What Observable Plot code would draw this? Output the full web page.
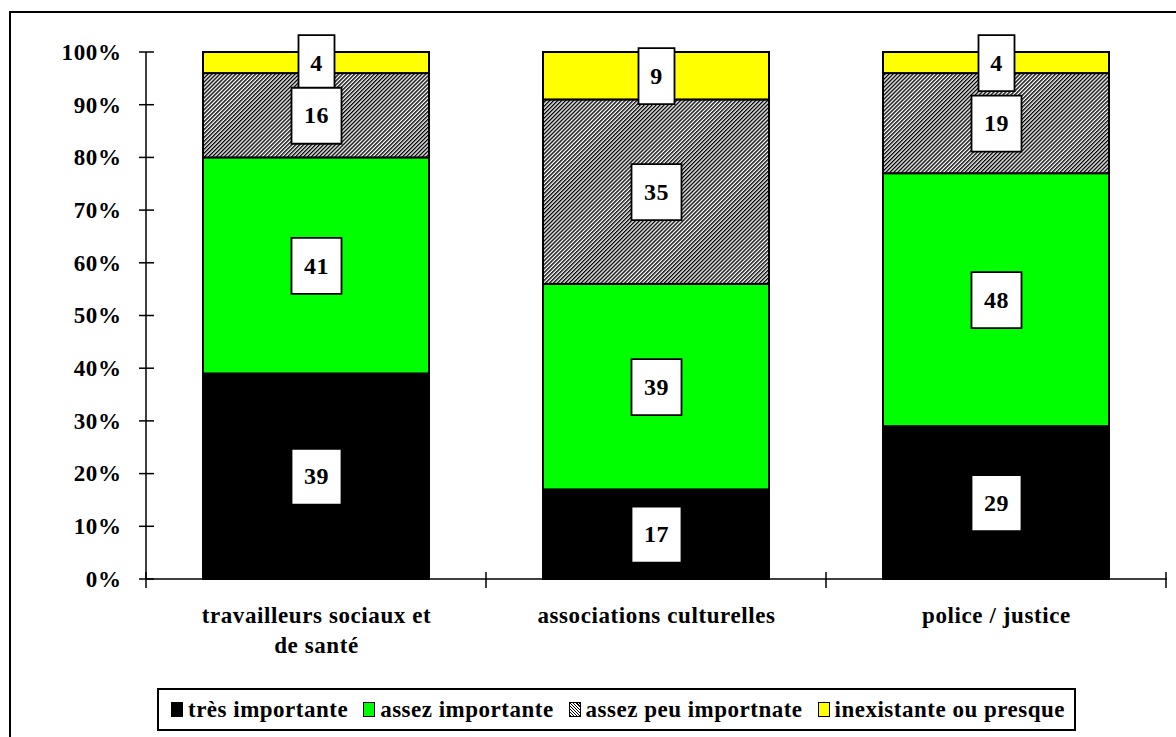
<!DOCTYPE html>
<html>
<head>
<meta charset="utf-8">
<script src="https://cdn.jsdelivr.net/npm/d3@7"></script>
<script src="https://cdn.jsdelivr.net/npm/@observablehq/plot@0.6"></script>
<style>
  html, body { margin: 0; padding: 0; background: #fff; }
  #wrap { position: relative; width: 1176px; height: 737px; overflow: hidden; background: #fff;
          font-family: "Liberation Serif", "DejaVu Serif", serif; font-weight: bold; }
  #chart { position: absolute; left: 0; top: 0; }
  #frame { position: absolute; left: 9px; top: 11px; width: 1300px; height: 900px; border: 2px solid #000; pointer-events: none; }
  #legend { position: absolute; left: 157px; top: 688px; width: 919px; height: 43px; box-sizing: border-box;
            border: 2px solid #000; display: flex; align-items: center; padding-left: 12px;
            font-size: 23px; letter-spacing: 0.5px; font-weight: bold; color: #000; white-space: nowrap; }
  .item { display: flex; align-items: center; margin-right: 15px; }
  .sw { width: 10px; height: 13px; border: 1.5px solid #000; margin-right: 5px; }
</style>
</head>
<body>
<div id="wrap">
  <div id="chart"></div>
  <div id="frame"></div>
  <div id="legend"></div>
</div>
<script>
// ---- data ----
const categories = ["travailleurs sociaux et de santé", "associations culturelles", "police / justice"];
const categoryLabels = ["travailleurs sociaux et\nde santé", "associations culturelles", "police / justice"];
const series = ["très importante", "assez importante", "assez peu importnate", "inexistante ou presque"];
const tresImportante = [39, 17, 29];
const assezImportante = [41, 39, 48];
const assezPeuImportante = [16, 35, 19];
const inexistante = [4, 9, 4];
const yTicks = [0, 10, 20, 30, 40, 50, 60, 70, 80, 90, 100];
const seriesColors = ["#000000", "#00ff00", "url(#hatch)", "#ffff00"];
const legendSwatches = ["#000000", "#00ff00", "repeating-linear-gradient(45deg, #000 0 1px, #fff 1px 2.2px)", "#ffff00"];

// ---- build stacked rows ----
const seriesValues = [tresImportante, assezImportante, assezPeuImportante, inexistante];
const rows = [];
categories.forEach((cat, ci) => {
  let base = 0;
  seriesValues.forEach((vals, si) => {
    const v = vals[ci];
    rows.push({cat, series: series[si], value: v, y1: base, y2: base + v, mid: base + v / 2});
    base += v;
  });
});

const fontFamily = "'Liberation Serif', 'DejaVu Serif', serif";

function boxSymbol(w, h) {
  return { draw(ctx) { ctx.rect(-w / 2, -h / 2, w, h); } };
}

function defsMark() {
  const g = d3.create("svg:g");
  const p = g.append("defs").append("pattern")
    .attr("id", "hatch").attr("patternUnits", "userSpaceOnUse")
    .attr("width", 2.8).attr("height", 2.8).attr("patternTransform", "rotate(45)");
  p.append("rect").attr("width", 2.8).attr("height", 2.8).attr("fill", "#fff");
  p.append("rect").attr("width", 1.4).attr("height", 2.8).attr("fill", "#000");
  return g.node();
}

function axesMark(index, scales, values, dims) {
  const x = scales.x, y = scales.y;
  const g = d3.create("svg:g").attr("stroke", "#000").attr("stroke-width", 1.5);
  const left = dims.marginLeft, right = dims.width - dims.marginRight;
  const y0 = y(0);
  // y axis line and crossing ticks
  g.append("line").attr("x1", left).attr("x2", left).attr("y1", y(100)).attr("y2", y0);
  for (const t of yTicks) {
    g.append("line").attr("x1", left - 7).attr("x2", left + 8).attr("y1", y(t)).attr("y2", y(t));
  }
  // x axis line and category boundary ticks
  g.append("line").attr("x1", left).attr("x2", right).attr("y1", y0).attr("y2", y0);
  const bw = x.bandwidth ? x.bandwidth() : 0;
  const step = x(categories[1]) - x(categories[0]);
  const bounds = categories.map(c => x(c) - (step - bw) / 2);
  bounds.push(bounds[bounds.length - 1] + step);
  for (const b of bounds) {
    g.append("line").attr("x1", b).attr("x2", b).attr("y1", y0 - 7).attr("y2", y0 + 9);
  }
  return g.node();
}

const oneDigit = rows.filter(d => String(d.value).length === 1);
const twoDigit = rows.filter(d => String(d.value).length === 2);

const chart = Plot.plot({
  width: 1176,
  height: 670,
  marginLeft: 146,
  marginRight: 9,
  marginTop: 52,
  marginBottom: 91,
  style: {fontFamily, background: "transparent", color: "#000", letterSpacing: "0.6px"},
  x: {domain: categories, paddingInner: 0.335, paddingOuter: 0.1675, axis: null},
  y: {domain: [0, 100], axis: null},
  color: {domain: series, range: seriesColors},
  marks: [
    defsMark,
    Plot.barY(rows, {x: "cat", y1: "y1", y2: "y2", fill: "series", stroke: "#000", strokeWidth: 2}),
    axesMark,
    Plot.text(yTicks, {y: d => d, frameAnchor: "left", dx: -25, textAnchor: "end",
      text: d => d + "%", fontSize: 23, fontWeight: "bold", fill: "#000"}),
    Plot.text(categories, {x: d => d, frameAnchor: "bottom", lineAnchor: "top", dy: 22,
      text: (d, i) => categoryLabels[i], lineHeight: 1.3, fontSize: 23, fontWeight: "bold", fill: "#000"}),
    Plot.dot(oneDigit, {x: "cat", y: "mid", symbol: boxSymbol(36, 56), fill: "#fff", stroke: "#000", strokeWidth: 1.8}),
    Plot.dot(twoDigit, {x: "cat", y: "mid", symbol: boxSymbol(50, 56), fill: "#fff", stroke: "#000", strokeWidth: 1.8}),
    Plot.text(rows, {x: "cat", y: "mid", text: d => String(d.value), fontSize: 24, fontWeight: "bold", fill: "#000"})
  ]
});
document.getElementById("chart").appendChild(chart);

// ---- legend ----
const legend = document.getElementById("legend");
series.forEach((s, i) => {
  const item = document.createElement("div");
  item.className = "item";
  const sw = document.createElement("span");
  sw.className = "sw";
  sw.style.background = legendSwatches[i];
  const label = document.createElement("span");
  label.textContent = s;
  item.appendChild(sw);
  item.appendChild(label);
  legend.appendChild(item);
});
</script>
</body>
</html>
